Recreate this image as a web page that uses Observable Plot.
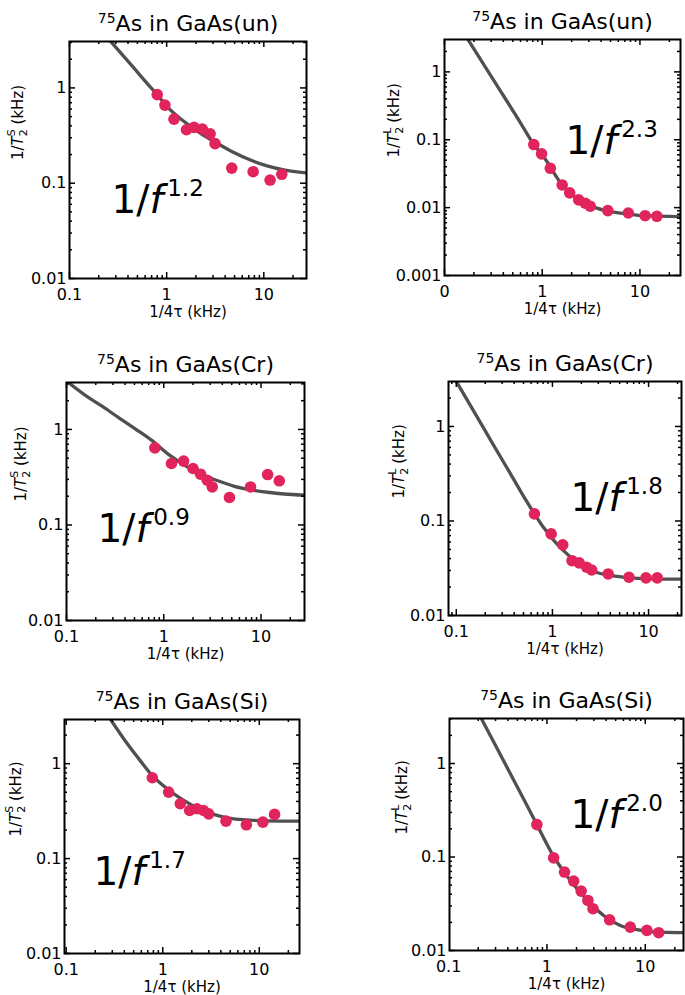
<!DOCTYPE html>
<html><head><meta charset="utf-8">
<script src="https://cdn.jsdelivr.net/npm/d3@7"></script>
<script src="https://cdn.jsdelivr.net/npm/@observablehq/plot@0.6"></script>
<style>
body{margin:0;background:#fff;}
#wrap{position:relative;width:685px;height:995px;overflow:hidden;background:#fff;}
#wrap svg{position:absolute;}
</style></head><body><div id="wrap"></div>
<script>
// ---- data ----
const sampleNames = ["GaAs(un)", "GaAs(un)", "GaAs(Cr)", "GaAs(Cr)", "GaAs(Si)", "GaAs(Si)"];
const componentLabels = ["S", "L", "S", "L", "S", "L"];
const exponents = ["1.2", "2.3", "0.9", "1.8", "1.7", "2.0"];

const p1DotX = [0.80, 0.96, 1.19, 1.6, 1.91, 2.33, 2.8, 3.15, 4.68, 7.76, 11.6, 15.3];
const p1DotY = [0.85, 0.66, 0.47, 0.364, 0.385, 0.37, 0.33, 0.26, 0.144, 0.132, 0.108, 0.124];
const p1FitX = [0.264, 0.459, 0.68, 0.80, 1.01, 1.5, 2.23, 3.31, 4.91, 7.29, 10.8, 16.1, 27.5];
const p1FitY = [3.1, 1.62, 1.02, 0.85, 0.636, 0.446, 0.333, 0.262, 0.21, 0.175, 0.152, 0.138, 0.128];

const p2DotX = [0.82, 0.985, 1.21, 1.6, 1.91, 2.36, 2.76, 3.1, 4.69, 7.6, 11.3, 14.9];
const p2DotY = [0.085, 0.062, 0.038, 0.0216, 0.0165, 0.013, 0.0116, 0.0105, 0.00903, 0.00834, 0.0076, 0.00745];
const p2FitX = [0.174, 0.33, 0.57, 0.82, 1.064, 1.57, 2.32, 3.43, 5.07, 7.5, 11.1, 26];
const p2FitY = [3.0, 0.695, 0.2, 0.085, 0.053, 0.0224, 0.0134, 0.0101, 0.00873, 0.00806, 0.0076, 0.00736];

const p3DotX = [0.81, 1.2, 1.6, 2.0, 2.39, 2.8, 3.15, 4.74, 7.8, 11.7, 15.4];
const p3DotY = [0.642, 0.44, 0.466, 0.39, 0.34, 0.294, 0.25, 0.194, 0.25, 0.337, 0.29];
const p3FitX = [0.105, 0.155, 0.23, 0.34, 0.505, 0.748, 1.11, 1.64, 2.43, 3.6, 5.33, 7.9, 11.7, 17.3, 28];
const p3FitY = [3.09, 2.29, 1.76, 1.34, 1.02, 0.773, 0.551, 0.422, 0.34, 0.29, 0.254, 0.233, 0.22, 0.211, 0.205];

const p4DotX = [0.65, 0.97, 1.28, 1.6, 1.9, 2.27, 2.56, 3.8, 6.25, 9.4, 12.3];
const p4DotY = [0.119, 0.073, 0.056, 0.038, 0.036, 0.0324, 0.0303, 0.0275, 0.0254, 0.025, 0.025];
const p4FitX = [0.1, 0.164, 0.244, 0.364, 0.54, 0.65, 0.806, 1.2, 1.79, 2.66, 3.97, 5.9, 8.8, 22];
const p4FitY = [3.0, 1.27, 0.635, 0.319, 0.161, 0.119, 0.0857, 0.0527, 0.0372, 0.0294, 0.0265, 0.0252, 0.0246, 0.0242];

const p5DotX = [0.78, 1.15, 1.52, 1.9, 2.26, 2.65, 2.99, 4.52, 7.35, 10.9, 14.4];
const p5DotY = [0.711, 0.502, 0.378, 0.321, 0.335, 0.321, 0.296, 0.248, 0.227, 0.242, 0.292];
const p5FitX = [0.288, 0.428, 0.587, 0.776, 1.11, 1.65, 2.45, 3.65, 5.42, 8.07, 12, 26];
const p5FitY = [2.92, 1.63, 1.07, 0.753, 0.544, 0.41, 0.33, 0.285, 0.262, 0.254, 0.25, 0.248];

const p6DotX = [0.79, 1.17, 1.51, 1.87, 2.23, 2.61, 2.94, 4.34, 7.04, 10.4, 13.7];
const p6DotY = [0.222, 0.098, 0.069, 0.0553, 0.0432, 0.0343, 0.028, 0.0213, 0.0178, 0.0164, 0.0155];
const p6FitX = [0.215, 0.362, 0.579, 0.79, 1.17, 1.73, 2.55, 3.77, 5.57, 8.23, 12.2, 24.5];
const p6FitY = [3.03, 1.07, 0.418, 0.222, 0.1016, 0.0562, 0.0349, 0.0237, 0.0185, 0.0167, 0.0158, 0.0155];

const xTickValues = [0.1, 1, 10];
const xTickLabelsStd = ["0.1", "1", "10"];
const xTickLabelsP2 = ["0", "1", "10"];
const yTickValuesStd = [0.01, 0.1, 1];
const yTickLabelsStd = ["0.01", "0.1", "1"];
const yTickValuesP2 = [0.001, 0.01, 0.1, 1];
const yTickLabelsP2 = ["0.001", "0.01", "0.1", "1"];
const xAxisLabel = "1/4τ (kHz)";

const xDomains = [[0.1, 27.5], [0.1, 26], [0.1, 28], [0.083, 22], [0.096, 26.1], [0.102, 24.5]];
const yDomains = [[0.01, 3.07], [0.001, 3.0], [0.01, 3.1], [0.01, 2.99], [0.01, 2.92], [0.01, 3.03]];

// ---- layout (pixels) ----
const boxes = [
  {left: 0,   top: 0,   width: 343, height: 330, mL: 69,  mT: 41, mR: 37, mB: 52, annDx: 42,  annDy: 171, ylDx: -47},
  {left: 343, top: 0,   width: 342, height: 330, mL: 101, mT: 39, mR: 5,  mB: 55, annDx: 121, annDy: 114, ylDx: -46},
  {left: 0,   top: 330, width: 343, height: 335, mL: 66,  mT: 52, mR: 39, mB: 45, annDx: 31,  annDy: 159, ylDx: -41},
  {left: 343, top: 330, width: 342, height: 335, mL: 105, mT: 51, mR: 4,  mB: 50, annDx: 122, annDy: 129, ylDx: -45},
  {left: 0,   top: 665, width: 343, height: 330, mL: 64,  mT: 54, mR: 44, mB: 42, annDx: 29,  annDy: 165, ylDx: -44},
  {left: 343, top: 665, width: 342, height: 330, mL: 106, mT: 53, mR: 2,  mB: 45, annDx: 121, annDy: 109, ylDx: -43}
];

const dots = [[p1DotX,p1DotY],[p2DotX,p2DotY],[p3DotX,p3DotY],[p4DotX,p4DotY],[p5DotX,p5DotY],[p6DotX,p6DotY]];
const fits = [[p1FitX,p1FitY],[p2FitX,p2FitY],[p3FitX,p3FitY],[p4FitX,p4FitY],[p5FitX,p5FitY],[p6FitX,p6FitY]];

const DOT = "#E2245C", LINE = "#505050", FONT = "DejaVu Sans";

function minorTicks(dom) {
  const out = [];
  for (let e = -4; e <= 2; e++) for (let m = 2; m <= 9; m++) {
    const v = m * Math.pow(10, e);
    if (v > dom[0] && v < dom[1]) out.push(v);
  }
  return out;
}
function majorsIn(vals, dom) { return vals.filter(v => v >= dom[0] * 0.999 && v <= dom[1] * 1.001); }
function richify(svg, plain, html) {
  svg.querySelectorAll("text").forEach(el => {
    if (el.textContent === plain) el.innerHTML = html;
  });
}

const wrap = document.getElementById("wrap");

for (let i = 0; i < 6; i++) {
  const b = boxes[i];
  const innerW = b.width - b.mL - b.mR, innerH = b.height - b.mT - b.mB;
  const xd = xDomains[i], yd = yDomains[i];
  const dotData = dots[i][0].map((x, k) => ({x, y: dots[i][1][k]}));
  const fitData = fits[i][0].map((x, k) => ({x, y: fits[i][1][k]}));
  const xT = i === 1 ? xTickLabelsP2 : xTickLabelsStd;
  const yV = i === 1 ? yTickValuesP2 : yTickValuesStd;
  const yL = i === 1 ? yTickLabelsP2 : yTickLabelsStd;
  const xMaj = majorsIn(xTickValues, xd), yMaj = majorsIn(yV, yd);
  const xMin = minorTicks(xd), yMin = minorTicks(yd);
  const MAJ = 6, MIN = 3;
  const titlePlain = `75As in ${sampleNames[i]}`;
  const annPlain = `1/f${exponents[i]}`;
  const ylabPlain = `1/T2${componentLabels[i]} (kHz)`;

  const plot = Plot.plot({
    width: b.width, height: b.height,
    marginLeft: b.mL, marginTop: b.mT, marginRight: b.mR, marginBottom: b.mB,
    x: {type: "log", domain: xd, axis: null},
    y: {type: "log", domain: yd, axis: null},
    style: {fontFamily: FONT, fontSize: "15px", background: "white", color: "black", overflow: "visible"},
    marks: [
      Plot.line(fitData, {x: "x", y: "y", stroke: LINE, strokeWidth: 3.3, curve: "monotone-x", clip: true}),
      Plot.dot(dotData, {x: "x", y: "y", r: 5.8, fill: DOT, stroke: "none"}),
      // ticks (inward, mirrored)
      Plot.tickX(xMaj, {x: d => d, insetTop: innerH - MAJ, stroke: "black", strokeWidth: 1.5}),
      Plot.tickX(xMaj, {x: d => d, insetBottom: innerH - MAJ, stroke: "black", strokeWidth: 1.5}),
      Plot.tickX(xMin, {x: d => d, insetTop: innerH - MIN, stroke: "black", strokeWidth: 1.5}),
      Plot.tickX(xMin, {x: d => d, insetBottom: innerH - MIN, stroke: "black", strokeWidth: 1.5}),
      Plot.tickY(yMaj, {y: d => d, insetRight: innerW - MAJ, stroke: "black", strokeWidth: 1.5}),
      Plot.tickY(yMaj, {y: d => d, insetLeft: innerW - MAJ, stroke: "black", strokeWidth: 1.5}),
      Plot.tickY(yMin, {y: d => d, insetRight: innerW - MIN, stroke: "black", strokeWidth: 1.5}),
      Plot.tickY(yMin, {y: d => d, insetLeft: innerW - MIN, stroke: "black", strokeWidth: 1.5}),
      Plot.frame({stroke: "black", strokeWidth: 2}),
      // tick labels
      Plot.text(xTickValues, {x: d => d, text: (d, k) => xT[k], frameAnchor: "bottom", lineAnchor: "bottom", dy: 21, fontSize: 16, fill: "black"}),
      Plot.text(yV, {y: d => d, text: (d, k) => yL[k], frameAnchor: "left", textAnchor: "end", dx: -3, fontSize: 16, fill: "black"}),
      // axis labels
      Plot.text([xAxisLabel], {text: d => d, frameAnchor: "bottom", lineAnchor: "bottom", dy: 38, fontSize: 15, fill: "black"}),
      Plot.text([ylabPlain], {text: d => d, frameAnchor: "left", rotate: -90, lineAnchor: "bottom", dx: b.ylDx, fontSize: 15, fill: "black"}),
      // title
      Plot.text([titlePlain], {text: d => d, frameAnchor: "top", lineAnchor: "bottom", dy: -11, fontSize: 22, fill: "black"}),
      // annotation
      Plot.text([annPlain], {text: d => d, frameAnchor: "top-left", textAnchor: "start", lineAnchor: "bottom", dx: b.annDx, dy: b.annDy, fontSize: 39, fill: "black"})
    ]
  });

  plot.style.left = b.left + "px";
  plot.style.top = b.top + "px";

  richify(plot, titlePlain, `<tspan font-size="14" dy="-8">75</tspan><tspan dy="8">As in ${sampleNames[i]}</tspan>`);
  richify(plot, annPlain, `1/<tspan font-style="italic">f</tspan><tspan font-size="23" dx="4" dy="-17">${exponents[i]}</tspan>`);
  richify(plot, ylabPlain, `1/<tspan font-style="italic">T</tspan><tspan font-size="11" dy="4">2</tspan><tspan font-size="11" dx="-7" dy="-12">${componentLabels[i]}</tspan><tspan dy="8"> (kHz)</tspan>`);

  wrap.appendChild(plot);
}
</script>
</body></html>
